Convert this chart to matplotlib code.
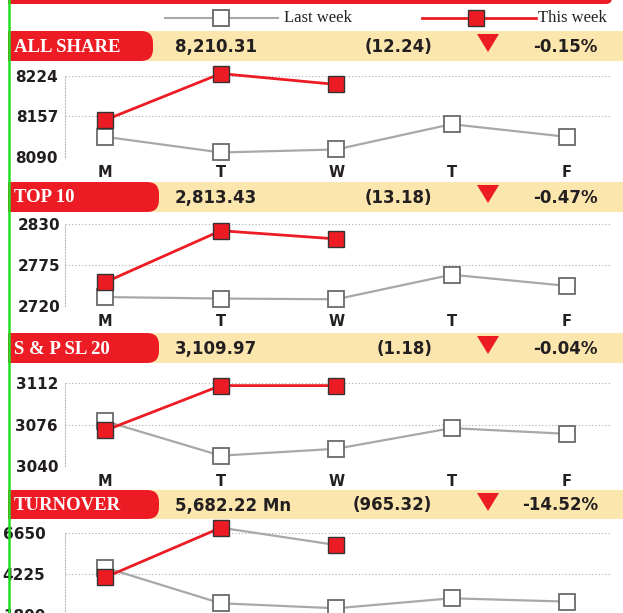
import matplotlib
matplotlib.use("Agg")
import matplotlib.pyplot as plt
from matplotlib.patches import Rectangle, FancyBboxPatch, Polygon
from matplotlib.lines import Line2D

# datos
days = ["M", "T", "W", "T", "F"]

names = ["ALL SHARE", "TOP 10", "S & P SL 20", "TURNOVER"]
closes = ["8,210.31", "2,813.43", "3,109.97", "5,682.22 Mn"]
changes = ["(12.24)", "(13.18)", "(1.18)", "(965.32)"]
pcts = ["-0.15%", "-0.47%", "-0.04%", "-14.52%"]

yticks_all = [8090, 8157, 8224]
yticks_top = [2720, 2775, 2830]
yticks_sp = [3040, 3076, 3112]
yticks_turn = [1800, 4225, 6650]

last_all = [8123, 8097, 8102, 8144, 8123]
this_all = [8151, 8228, 8210]
last_top = [2732, 2730, 2729, 2762, 2747]
this_top = [2752, 2821, 2810]
last_sp = [3079, 3049, 3055, 3073, 3068]
this_sp = [3071, 3110, 3110]
last_turn = [4596, 2505, 2212, 2799, 2603]
this_turn = [4032, 6943, 5928]

RED = "#ed1c24"
BAND = "#fbe6ad"
GRAY = "#a8a8a8"
W, H = 623, 613

fig = plt.figure(figsize=(W / 100, H / 100), dpi=100)
bg = fig.add_axes([0, 0, 1, 1])
bg.set_xlim(0, W)
bg.set_ylim(H, 0)
bg.axis("off")


def rbox(ax, x0, x1, y0, y1, color, r):
    """caja con esquinas derechas redondeadas"""
    ax.add_patch(FancyBboxPatch((x0, y0), x1 - x0, y1 - y0,
                                boxstyle="round,pad=0,rounding_size=%g" % r,
                                fc=color, ec="none", zorder=2))
    ax.add_patch(Rectangle((x0, y0), (x1 - x0) - r, y1 - y0, fc=color, ec="none", zorder=2))


# barra roja superior
rbox(bg, 8, 612, -6, 4, RED, 6)

# leyenda
bg.plot([165, 278], [18, 18], color=GRAY, lw=1.5, zorder=3)
bg.plot([221], [18], marker="s", ms=12, mfc="white", mec="#666666", mew=1.3, zorder=4)
bg.text(284, 18.5, "Last week", family="Liberation Serif", fontsize=12, va="center", color="#222222")
bg.plot([422, 536], [18, 18], color=RED, lw=2, zorder=3)
bg.plot([476], [18], marker="s", ms=12, mfc=RED, mec="#333333", mew=1, zorder=4)
bg.text(538, 18.5, "This week", family="Liberation Serif", fontsize=12, va="center", color="#222222")

# cabeceras: (y0, y1, fin de la caja roja)
heads = [(31, 61, 153), (182, 212, 159), (333, 363, 159), (490, 519, 159)]
for i, (y0, y1, xr) in enumerate(heads):
    bg.add_patch(Rectangle((8, y0), W - 8, y1 - y0, fc=BAND, ec="none", zorder=1))
    rbox(bg, 8, xr, y0, y1, RED, 12)
    yc = (y0 + y1) / 2
    bg.text(14, yc + 1, names[i], family="Liberation Serif", weight="bold", fontsize=13.5,
            color="white", va="center", zorder=3)
    bg.text(175, yc + 1, closes[i], family="DejaVu Sans", weight="bold", fontsize=12,
            color="#231f20", va="center", zorder=3)
    bg.text(432, yc + 1, changes[i], family="DejaVu Sans", weight="bold", fontsize=12,
            color="#231f20", va="center", ha="right", zorder=3)
    bg.add_patch(Polygon([(477, y0 + 3), (499, y0 + 3), (488, y0 + 21)], closed=True,
                         fc=RED, ec="none", zorder=3))
    bg.text(598, yc + 1, pcts[i], family="DejaVu Sans", weight="bold", fontsize=12,
            color="#231f20", va="center", ha="right", zorder=3)

# paneles: (ultimo, este, ticks, y pixel del tick superior, y pixel del inferior, borde etiqueta, etiquetas x)
panels = [
    (last_all, this_all, yticks_all, 76, 156.7, 60, True),
    (last_top, this_top, yticks_top, 224, 306, 62, True),
    (last_sp, this_sp, yticks_sp, 383.3, 466, 60, True),
    (last_turn, this_turn, yticks_turn, 532.7, 615.3, 51, False),
]

x0px, x1px = 65, 612
xmin, xmax = -0.35, 4.39
for k, (lw_vals, tw_vals, yt, ytop, ybot, lab_right, show_x) in enumerate(panels):
    ax = fig.add_axes([x0px / W, 1 - ybot / H, (x1px - x0px) / W, (ybot - ytop) / H])
    ax.set_facecolor("none")
    ax.set_xlim(xmin, xmax)
    ax.set_ylim(yt[0], yt[-1])
    for s in ["top", "right", "bottom"]:
        ax.spines[s].set_visible(False)
    ax.spines["left"].set_linestyle(":")
    ax.spines["left"].set_color("#bbbbbb")
    ax.spines["left"].set_linewidth(0.8)
    for v in yt:
        ax.axhline(v, color="#aaaaaa", lw=0.8, ls=(0, (1, 2)), zorder=0)

    ax.set_yticks(yt)
    ax.set_yticklabels([str(v) for v in yt])
    ax.tick_params(axis="y", length=0, pad=(x0px - lab_right))
    for t in ax.get_yticklabels():
        t.set_fontfamily("DejaVu Sans")
        t.set_fontweight("bold")
        t.set_fontsize(11)
        t.set_color("#231f20")

    xs = list(range(len(days)))
    if show_x:
        ax.set_xticks(xs)
        ax.set_xticklabels(days)
        ax.tick_params(axis="x", length=0, pad=6)
        for t in ax.get_xticklabels():
            t.set_fontfamily("DejaVu Sans")
            t.set_fontweight("bold")
            t.set_fontsize(10.5)
            t.set_color("#231f20")
    else:
        ax.set_xticks([])

    ax.plot(xs, lw_vals, color=GRAY, lw=1.6, marker="s", ms=12, mfc="white",
            mec="#6a6a6a", mew=1.3, clip_on=False, zorder=3)
    tx = xs[:len(tw_vals)]
    if k == 3:
        # en turnover el tramo T-W sale gris
        ax.plot(tx[:2], tw_vals[:2], color=RED, lw=2, clip_on=False, zorder=4)
        ax.plot(tx[1:], tw_vals[1:], color=GRAY, lw=1.6, clip_on=False, zorder=4)
        ax.plot(tx, tw_vals, ls="none", marker="s", ms=12, mfc=RED, mec="#333333",
                mew=1, clip_on=False, zorder=5)
    else:
        ax.plot(tx, tw_vals, color=RED, lw=2, marker="s", ms=12, mfc=RED, mec="#333333",
                mew=1, clip_on=False, zorder=4)

# linea verde de la izquierda
fig.add_artist(Line2D([8.5 / W, 8.5 / W], [0, 1], color="#22dd22", lw=1.8, zorder=10))

fig.savefig("out.png", dpi=100)
